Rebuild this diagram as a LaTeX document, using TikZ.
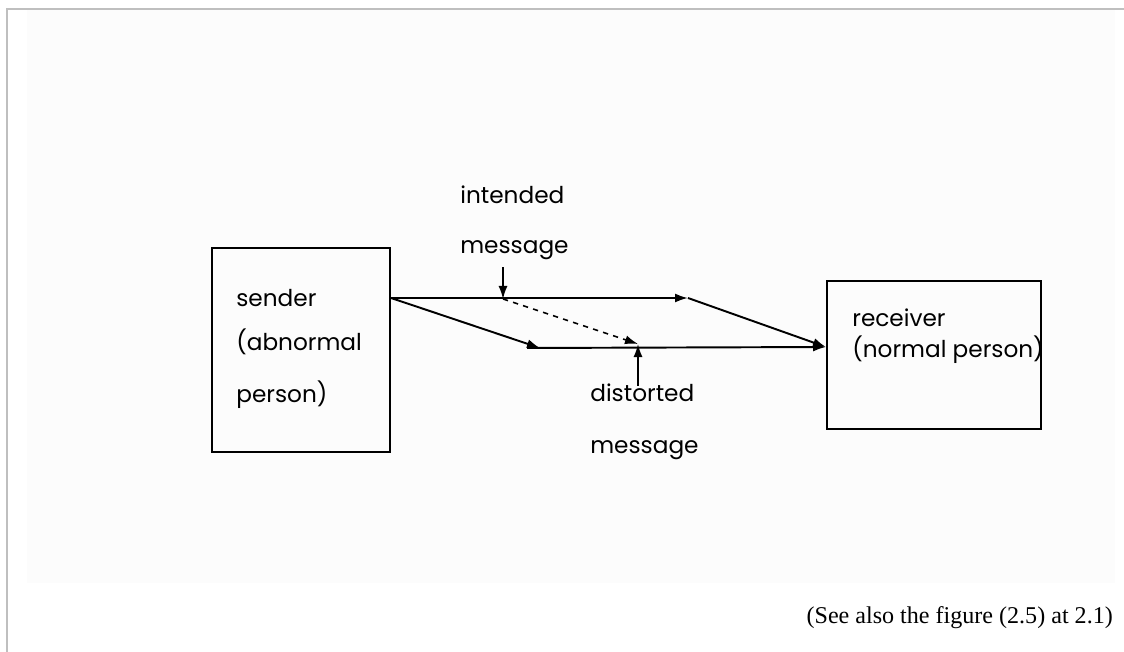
\documentclass[tikz,border=0pt]{standalone}
\usepackage{fontspec}
\setmainfont{Liberation Serif}
\newfontfamily\scanfont{Poppins}
\usetikzlibrary{arrows.meta, positioning}
\tikzset{
    >={Latex[length=2.6mm, width=1.8mm]},
    frameline/.style={draw=black!25, line width=0.45mm},
    scanned/.style={fill=black!1},
    party/.style={draw, line width=1pt, minimum width=35.6mm, minimum height=40.8mm, inner sep=0pt},
    partyr/.style={party, minimum width=42.8mm, minimum height=29.6mm},
    word/.style={anchor=west, inner sep=0pt, font=\scanfont\fontsize{13.2}{15}\selectfont},
    flow/.style={line width=1.1pt, ->},
    pointer/.style={line width=0.9pt, ->},
    distort/.style={line width=0.9pt, dashed, ->},
}
\begin{document}
\begin{tikzpicture}[x=0.2mm, y=-0.2mm]
    \useasboundingbox (0,0) rectangle (1124,652);
    \fill[scanned] (27,10) rectangle (1115,583);
    \draw[frameline] (1124,9) -- (7,9) -- (7,652);
    % the two parties
    \node[party, anchor=north west] (sender) at (211,247) {};
    \node[partyr, anchor=north west] (receiver) at (826,280) {};
    \node[word] (snd) at (236,298) {sender};
    \node[word] (snd2) at (236,342) {(abnormal};
    \node[word] (snd3) at (236,395) {person)};
    \node[word] (rcv) at (852,318) {receiver};
    \node[word] (rcv2) at (852,350) {(normal person)};
    % labels
    \node[word] (int) at (460,195) {intended};
    \node[word] (intmsg) at (460,250) {message};
    \node[word] (dis) at (590,393) {distorted};
    \node[word] (dismsg) at (590,450) {message};
    % corners of the channel
    \coordinate (s1) at (391,298);
    \coordinate (t1) at (688,298);
    \coordinate (b1) at (540,348);
    \coordinate (r1) at (826,347);
    \coordinate (m1) at (503,299);
    \coordinate (d1) at (638,344);
    \draw[flow] (s1) -- (t1);
    \draw[flow] (t1) -- (r1);
    \draw[flow] (s1) -- (b1);
    \draw[flow] (b1 -| 527,0) -- (r1);
    \draw[distort] (m1) -- (d1);
    \draw[pointer] ([yshift=-1.5mm]intmsg.south -| m1) -- (m1);
    \draw[pointer] ([yshift=-0.5mm]dis.north -| d1) -- (d1);
    % caption
    \node[anchor=east, font=\fontsize{13.7}{15}\selectfont] (cap) at (1119,618) {(See also the figure (2.5) at 2.1)};
\end{tikzpicture}
\end{document}
